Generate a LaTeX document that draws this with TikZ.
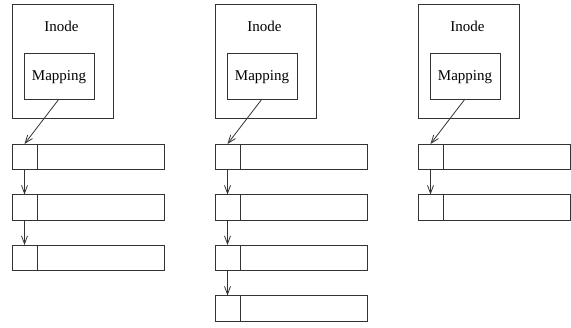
\documentclass[tikz,border=0pt]{standalone}
\usepackage{fontspec}
\setmainfont{Liberation Serif}
\usetikzlibrary{positioning, arrows.meta}
\tikzset{inode/.style={
    rectangle,
    draw,
    minimum width=101pt,
    minimum height=114pt,
    inner sep=0pt, outer sep=0pt
}}
\tikzset{mapping/.style={
    rectangle,
    draw,
    minimum width=70pt,
    minimum height=46pt,
    inner sep=0pt, outer sep=0pt
}}
\tikzset{ptrcell/.style={
    rectangle,
    draw,
    minimum width=25pt,
    minimum height=25.5pt,
    inner sep=0pt, outer sep=0pt
}}
\tikzset{datacell/.style={
    rectangle,
    draw,
    minimum width=127pt,
    minimum height=25.5pt,
    inner sep=0pt, outer sep=0pt
}}

\begin{document}
\begin{tikzpicture}[
    x=1pt, y=-1pt,
    >={Straight Barb[length=8pt,width=6pt]}, line width=0.8pt, black!80,
    text=black, font=\fontsize{15}{18}\selectfont
]
    \useasboundingbox (0,0) rectangle (571,328);
    \foreach \col/\x/\n in {a/12/3, b/215/4, c/418/2} {
        % Inode with its mapping
        \node (inode\col) [inode] at (\x+50.5, 61) {};
        \node (title\col) at (\x+49.5, 26) {Inode};
        \node (mapping\col) [mapping] at (\x+47, 76) {};
        \node (label\col) at (\x+47, 77.5) {Mapping};
        % chain of blocks
        \foreach \i in {1,...,\n} {
            \node (ptr\col\i) [ptrcell] at (\x+12.5, 156.75+50.5*\i-50.5) {};
            \node (data\col\i) [datacell, anchor=west] at (ptr\col\i.east) {};
        }
        \draw [->] (mapping\col.south) -- (ptr\col1.north);
        \foreach \i in {2,...,\n} {
            \pgfmathtruncatemacro\j{\i-1}
            \draw [->] (ptr\col\j.south) -- (ptr\col\i.north);
        }
    }
\end{tikzpicture}
\end{document}
